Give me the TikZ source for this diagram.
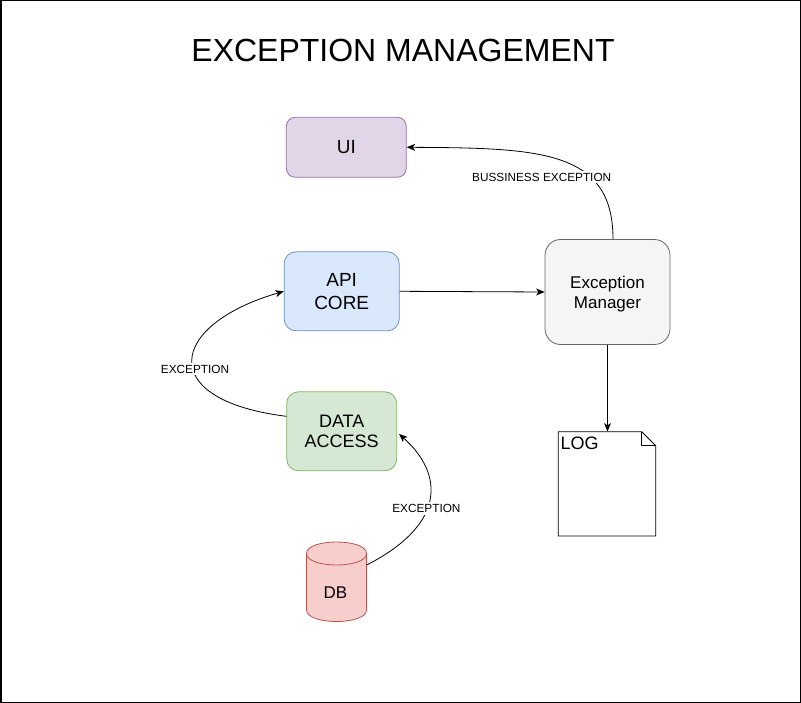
\documentclass[tikz,border=0pt]{standalone}
\usepackage{fontspec}
\setmainfont{Liberation Sans}
\usetikzlibrary{arrows.meta,calc}
\definecolor{uifill}{HTML}{E1D5E7}\definecolor{uiline}{HTML}{9673A6}
\definecolor{apifill}{HTML}{DAE8FC}\definecolor{apiline}{HTML}{6C8EBF}
\definecolor{emfill}{HTML}{F5F5F5}\definecolor{emline}{HTML}{666666}
\definecolor{dafill}{HTML}{D5E8D4}\definecolor{daline}{HTML}{82B366}
\definecolor{dbfill}{HTML}{F8CECC}\definecolor{dbline}{HTML}{B85450}
\begin{document}
\begin{tikzpicture}[x=1pt,y=-1pt,
  box/.style={draw, line width=0.8pt, inner sep=0pt, align=center},
  conn/.style={line width=0.8pt, -{Stealth[length=8.5pt,width=7pt,inset=2.5pt]}},
  lbl/.style={fill=white, inner sep=2.2pt, font=\fontsize{11.8}{14}\selectfont}]
\useasboundingbox (0,0) rectangle (801,703);
\draw[line width=1.5pt] (0.75,0.75) rectangle (800.25,702.25);
\node (title) at (403,50.5) {\fontsize{32}{37}\selectfont EXCEPTION MANAGEMENT};
% boxes
\node[box, fill=uifill, draw=uiline, rounded corners=9pt, minimum width=120pt, minimum height=60pt,
  font=\fontsize{19}{23}\selectfont] (ui) at (346.3,147.3) {UI};
\node[box, fill=apifill, draw=apiline, rounded corners=11.8pt, minimum width=115pt, minimum height=79pt,
  font=\fontsize{19}{23.4}\selectfont] (api) at (341.7,291.3) {API\\CORE};
\node[box, fill=emfill, draw=emline, rounded corners=15.7pt, minimum width=125pt, minimum height=105pt,
  font=\fontsize{17}{20.6}\selectfont] (em) at (607.5,292) {};
\node[align=center, inner sep=0pt, font=\fontsize{17}{20.6}\selectfont] (emt) at (607.5,294) {Exception\\Manager};
\node[box, fill=dafill, draw=daline, rounded corners=11.8pt, minimum width=110pt, minimum height=79pt,
  font=\fontsize{18}{19.6}\selectfont] (da) at (341.7,431.3) {DATA\\ACCESS};
% DB cylinder
\node[minimum width=60pt, minimum height=80pt, inner sep=0pt] (db) at (336.5,582) {};
\filldraw[fill=dbfill, draw=dbline, line width=0.8pt]
  (306.5,553.5) -- (306.5,610) .. controls (306.5,625.33) and (366.5,625.33) .. (366.5,610)
  -- (366.5,553.5) .. controls (366.5,538.17) and (306.5,538.17) .. (306.5,553.5) -- cycle;
\draw[dbline, line width=0.8pt] (306.5,553.5) .. controls (306.5,568.83) and (366.5,568.83) .. (366.5,553.5);
\node[font=\fontsize{17}{20}\selectfont] (dbt) at (335.5,593) {DB};
% LOG document
\node[minimum width=97.4pt, minimum height=104.3pt, inner sep=0pt] (log) at (607,483.85) {};
\filldraw[fill=white, draw=black, line width=0.8pt]
  (558.3,431.7) -- (641.7,431.7) -- (655.7,445.7) -- (655.7,536) -- (558.3,536) -- cycle;
\draw[line width=0.8pt] (641.7,431.7) -- (641.7,445.7) -- (655.7,445.7);
\node[anchor=base west, inner sep=0pt, font=\fontsize{18}{21}\selectfont] (logt) at (560.5,449.8) {LOG};
% connectors
\draw[conn] ($(em.north)+(5.5,0)$) .. controls (613,150) and (540,148) .. (ui.east);
\draw[conn] (api.east) -- (em.west);
\draw[conn] (em.south) -- (em.south |- log.north);
\draw[conn] ($(da.west)+(0,-15)$) .. controls (155,400) and (168,325) .. (api.west);
\draw[conn] ($(db.east)+(0,-17)$) .. controls (445,525) and (445,475) .. ($(da.east)+(2,2.7)$);
% labels
\node[lbl] (l1) at (541.7,177) {BUSSINESS EXCEPTION};
\node[lbl] (l2) at (195,369) {EXCEPTION};
\node[lbl] (l3) at (426.4,508.3) {EXCEPTION};
\end{tikzpicture}
\end{document}
